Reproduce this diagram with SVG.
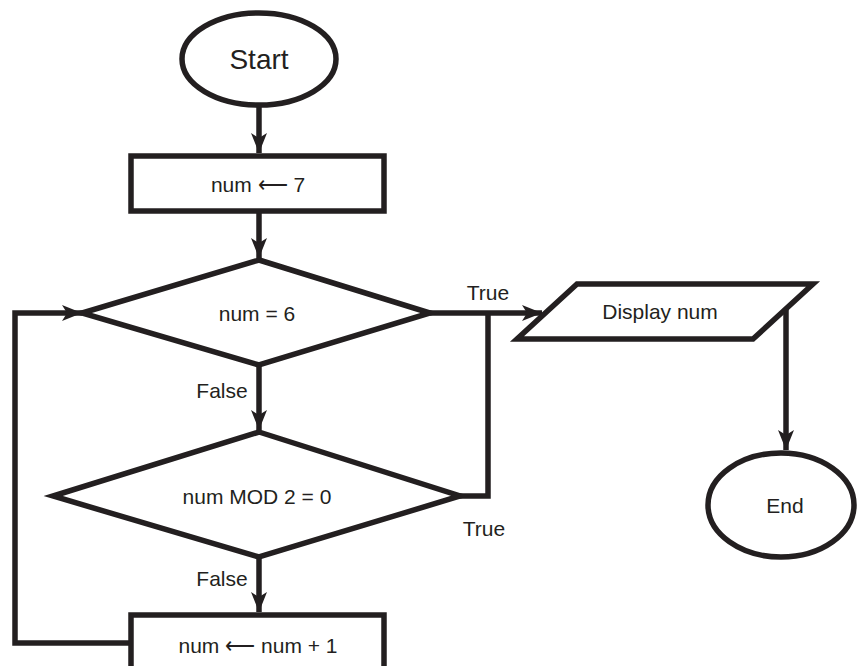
<svg xmlns="http://www.w3.org/2000/svg" width="857" height="666" viewBox="0 0 857 666">
  <style>
    .shape { fill: #ffffff; stroke: #231f20; stroke-width: 5.5; stroke-linejoin: miter; }
    .wire { fill: none; stroke: #231f20; stroke-width: 5.5; stroke-linejoin: miter; }
    .label { font-family: "Liberation Sans", Arial, sans-serif; font-size: 21px; fill: #231f20; text-anchor: middle; dominant-baseline: central; }
    .big { font-size: 28px; }
  </style>
  <defs>
    <marker id="arrow" markerUnits="userSpaceOnUse" markerWidth="22" markerHeight="18" refX="20" refY="9" orient="auto">
      <path d="M0,1 L20,9 L0,17 L5,9 Z" fill="#231f20"/>
    </marker>
  </defs>
  <rect width="857" height="666" fill="#ffffff"/>

  <!-- connectors -->
  <g id="connectors">
    <path class="wire" d="M259 105 L259 153" marker-end="url(#arrow)"/>
    <path class="wire" d="M259 211 L259 258" marker-end="url(#arrow)"/>
    <path class="wire" d="M259 365 L259 430" marker-end="url(#arrow)"/>
    <path class="wire" d="M259 557 L259 612" marker-end="url(#arrow)"/>
    <path class="wire" d="M131 643 L15 643 L15 313 L82 313" marker-end="url(#arrow)"/>
    <path class="wire" d="M430 313 L542 313" marker-end="url(#arrow)"/>
    <path class="wire" d="M458 496 L488 496 L488 313"/>
    <path class="wire" d="M786 306 L786 450" marker-end="url(#arrow)"/>
    <text class="label" x="488" y="292">True</text>
    <text class="label" x="484" y="528">True</text>
    <text class="label" x="222" y="390">False</text>
    <text class="label" x="222" y="578">False</text>
  </g>

  <g id="start">
    <ellipse class="shape" cx="259" cy="59" rx="77" ry="46"/>
    <text class="label big" x="259" y="59">Start</text>
  </g>

  <g id="init">
    <rect class="shape" x="131" y="156" width="253" height="55"/>
    <text class="label" x="258" y="184">num ⟵ 7</text>
  </g>

  <g id="check-six">
    <polygon class="shape" points="259,260 430,313 259,365 82,313"/>
    <text class="label" x="257" y="313">num = 6</text>
  </g>

  <g id="check-even">
    <polygon class="shape" points="259,432 460,496 259,557 53,496"/>
    <text class="label" x="257" y="496">num MOD 2 = 0</text>
  </g>

  <g id="increment">
    <rect class="shape" x="131" y="615" width="253" height="70"/>
    <text class="label" x="258" y="645">num ⟵ num + 1</text>
  </g>

  <g id="display">
    <polygon class="shape" points="577,284 813,284 753,339 517,339"/>
    <text class="label" x="660" y="311">Display num</text>
  </g>

  <g id="end">
    <ellipse class="shape" cx="781" cy="505" rx="73" ry="52"/>
    <text class="label" x="785" y="505">End</text>
  </g>
</svg>
